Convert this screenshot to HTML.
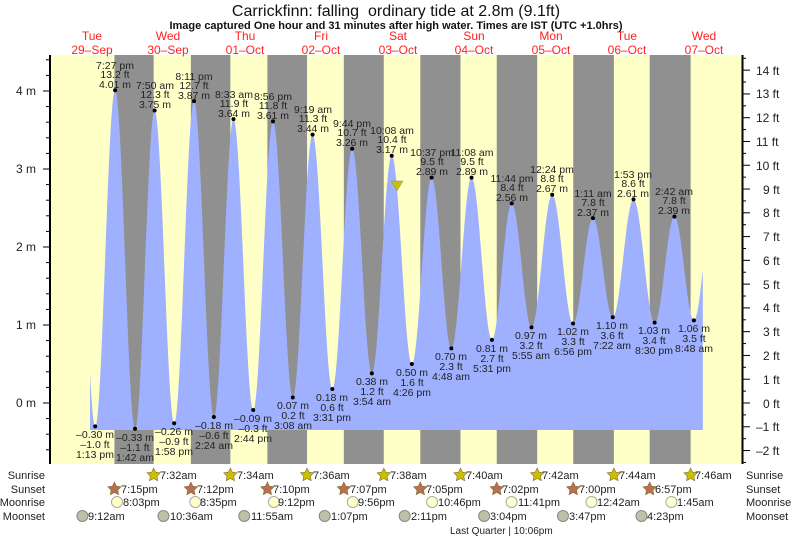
<!DOCTYPE html>
<html><head><meta charset="utf-8"><style>
body{margin:0;background:#fff;}
svg{display:block;font-family:"Liberation Sans",sans-serif;}
.t{font-size:10.5px;fill:#222;text-anchor:middle;}
.d{font-size:12px;fill:#f22;text-anchor:middle;}
.ax{font-size:12px;fill:#222;}
.r{font-size:11px;fill:#222;}
</style></head><body>
<svg id="s" width="793" height="538" viewBox="0 0 793 538">
<g id="bg"></g>
<path id="water" fill="#9fb0ff" d=""/>
<g id="ticks" stroke="#000" stroke-width="1"></g>
<line x1="50" y1="55" x2="50" y2="464" stroke="#000" stroke-width="2"/>
<line x1="742.5" y1="55" x2="742.5" y2="464" stroke="#000" stroke-width="2"/>
<text x="396" y="16" style="font-size:16px;fill:#111" text-anchor="middle">Carrickfinn: falling&#160; ordinary tide at 2.8m (9.1ft)</text>
<text x="396" y="29" style="font-size:11px;font-weight:bold;fill:#111" text-anchor="middle">Image captured One hour and 31 minutes after high water. Times are IST (UTC +1.0hrs)</text>
<text class="d" x="92" y="40">Tue</text><text class="d" x="92" y="54">29–Sep</text>
<text class="d" x="168" y="40">Wed</text><text class="d" x="168" y="54">30–Sep</text>
<text class="d" x="245" y="40">Thu</text><text class="d" x="245" y="54">01–Oct</text>
<text class="d" x="321" y="40">Fri</text><text class="d" x="321" y="54">02–Oct</text>
<text class="d" x="398" y="40">Sat</text><text class="d" x="398" y="54">03–Oct</text>
<text class="d" x="474" y="40">Sun</text><text class="d" x="474" y="54">04–Oct</text>
<text class="d" x="551" y="40">Mon</text><text class="d" x="551" y="54">05–Oct</text>
<text class="d" x="627" y="40">Tue</text><text class="d" x="627" y="54">06–Oct</text>
<text class="d" x="704" y="40">Wed</text><text class="d" x="704" y="54">07–Oct</text>
<g class="ax" text-anchor="end">
<text x="36" y="95">4 m</text><text x="36" y="173">3 m</text><text x="36" y="251">2 m</text><text x="36" y="329">1 m</text><text x="36" y="407">0 m</text>
</g>
<g class="ax">
<text x="756" y="75">14 ft</text><text x="756" y="98">13 ft</text><text x="756" y="122">12 ft</text><text x="756" y="146">11 ft</text><text x="756" y="170">10 ft</text><text x="763" y="194">9 ft</text><text x="763" y="217">8 ft</text><text x="763" y="241">7 ft</text><text x="763" y="265">6 ft</text><text x="763" y="289">5 ft</text><text x="763" y="312">4 ft</text><text x="763" y="336">3 ft</text><text x="763" y="360">2 ft</text><text x="763" y="384">1 ft</text><text x="763" y="408">0 ft</text><text x="756" y="431">–1 ft</text><text x="756" y="455">–2 ft</text>
</g>
<g id="dots" fill="#000"></g>
<g class="t">
<text x="115" y="69">7:27 pm</text><text x="115" y="78">13.2 ft</text><text x="115" y="88">4.01 m</text>
<text x="155" y="89">7:50 am</text><text x="155" y="98">12.3 ft</text><text x="155" y="108">3.75 m</text>
<text x="194" y="80">8:11 pm</text><text x="194" y="89">12.7 ft</text><text x="194" y="99">3.87 m</text>
<text x="234" y="98">8:33 am</text><text x="234" y="107">11.9 ft</text><text x="234" y="117">3.64 m</text>
<text x="273" y="100">8:56 pm</text><text x="273" y="109">11.8 ft</text><text x="273" y="119">3.61 m</text>
<text x="313" y="113">9:19 am</text><text x="313" y="122">11.3 ft</text><text x="313" y="132">3.44 m</text>
<text x="352" y="127">9:44 pm</text><text x="352" y="136">10.7 ft</text><text x="352" y="146">3.26 m</text>
<text x="392" y="134">10:08 am</text><text x="392" y="143">10.4 ft</text><text x="392" y="153">3.17 m</text>
<text x="432" y="156">10:37 pm</text><text x="432" y="165">9.5 ft</text><text x="432" y="175">2.89 m</text>
<text x="472" y="156">11:08 am</text><text x="472" y="165">9.5 ft</text><text x="472" y="175">2.89 m</text>
<text x="512" y="182">11:44 pm</text><text x="512" y="191">8.4 ft</text><text x="512" y="201">2.56 m</text>
<text x="552" y="173">12:24 pm</text><text x="552" y="182">8.8 ft</text><text x="552" y="192">2.67 m</text>
<text x="593" y="197">1:11 am</text><text x="593" y="206">7.8 ft</text><text x="593" y="216">2.37 m</text>
<text x="633" y="178">1:53 pm</text><text x="633" y="187">8.6 ft</text><text x="633" y="197">2.61 m</text>
<text x="674" y="195">2:42 am</text><text x="674" y="204">7.8 ft</text><text x="674" y="214">2.39 m</text>

<text x="95" y="438">–0.30 m</text><text x="95" y="448">–1.0 ft</text><text x="95" y="458">1:13 pm</text>
<text x="135" y="441">–0.33 m</text><text x="135" y="451">–1.1 ft</text><text x="135" y="461">1:42 am</text>
<text x="174" y="435">–0.26 m</text><text x="174" y="445">–0.9 ft</text><text x="174" y="455">1:58 pm</text>
<text x="214" y="429">–0.18 m</text><text x="214" y="439">–0.6 ft</text><text x="214" y="449">2:24 am</text>
<text x="253" y="422">–0.09 m</text><text x="253" y="432">–0.3 ft</text><text x="253" y="442">2:44 pm</text>
<text x="293" y="409">0.07 m</text><text x="293" y="419">0.2 ft</text><text x="293" y="429">3:08 am</text>
<text x="332" y="401">0.18 m</text><text x="332" y="411">0.6 ft</text><text x="332" y="421">3:31 pm</text>
<text x="372" y="385">0.38 m</text><text x="372" y="395">1.2 ft</text><text x="372" y="405">3:54 am</text>
<text x="412" y="376">0.50 m</text><text x="412" y="386">1.6 ft</text><text x="412" y="396">4:26 pm</text>
<text x="451" y="360">0.70 m</text><text x="451" y="370">2.3 ft</text><text x="451" y="380">4:48 am</text>
<text x="492" y="352">0.81 m</text><text x="492" y="362">2.7 ft</text><text x="492" y="372">5:31 pm</text>
<text x="531" y="339">0.97 m</text><text x="531" y="349">3.2 ft</text><text x="531" y="359">5:55 am</text>
<text x="573" y="335">1.02 m</text><text x="573" y="345">3.3 ft</text><text x="573" y="355">6:56 pm</text>
<text x="612" y="329">1.10 m</text><text x="612" y="339">3.6 ft</text><text x="612" y="349">7:22 am</text>
<text x="654" y="334">1.03 m</text><text x="654" y="344">3.4 ft</text><text x="654" y="354">8:30 pm</text>
<text x="694" y="332">1.06 m</text><text x="694" y="342">3.5 ft</text><text x="694" y="352">8:48 am</text>
</g>
<polygon points="391,181 403,181 397,191" fill="#c8c000" stroke="#888" stroke-width="0.5"/>
<g class="r" text-anchor="end">
<text x="45" y="479">Sunrise</text><text x="45" y="493">Sunset</text><text x="45" y="506">Moonrise</text><text x="45" y="520">Moonset</text>
</g>
<g class="r">
<text x="746" y="479">Sunrise</text><text x="746" y="493">Sunset</text><text x="746" y="506">Moonrise</text><text x="746" y="520">Moonset</text>
</g>
<g id="icons"></g>
<g class="r" font-size="10.5">
<text x="160" y="479">7:32am</text><text x="237" y="479">7:34am</text><text x="313" y="479">7:36am</text><text x="390" y="479">7:38am</text><text x="466" y="479">7:40am</text><text x="542" y="479">7:42am</text><text x="619" y="479">7:44am</text><text x="695" y="479">7:46am</text>
<text x="121" y="493">7:15pm</text><text x="197" y="493">7:12pm</text><text x="273" y="493">7:10pm</text><text x="350" y="493">7:07pm</text><text x="426" y="493">7:05pm</text><text x="502" y="493">7:02pm</text><text x="579" y="493">7:00pm</text><text x="655" y="493">6:57pm</text>
<text x="123" y="506">8:03pm</text><text x="200" y="506">8:35pm</text><text x="278" y="506">9:12pm</text><text x="358" y="506">9:56pm</text><text x="438" y="506">10:46pm</text><text x="518" y="506">11:41pm</text><text x="597" y="506">12:42am</text><text x="677" y="506">1:45am</text>
<text x="88" y="520">9:12am</text><text x="170" y="520">10:36am</text><text x="251" y="520">11:55am</text><text x="331" y="520">1:07pm</text><text x="411" y="520">2:11pm</text><text x="490" y="520">3:04pm</text><text x="569" y="520">3:47pm</text><text x="647" y="520">4:23pm</text>
<text x="450" y="534" font-size="10">Last Quarter | 10:06pm</text>
</g>
</svg>
<script>
var NS="http://www.w3.org/2000/svg";
function X(t){return 53+t*3.1917;}
function Y(m){return 403-78*m;}
function el(p,n,a){var e=document.createElementNS(NS,n);for(var k in a)e.setAttribute(k,a[k]);document.getElementById(p).appendChild(e);return e;}
el("bg","rect",{x:50,y:55,width:693,height:409,fill:"#ffffc8"});
var ss=[19.25,43.2,67.17,91.12,115.08,139.03,163,186.95],sr=[31.53,55.57,79.6,103.63,127.67,151.7,175.73,199.77];
for(var i=0;i<8;i++)el("bg","rect",{x:X(ss[i]),y:55,width:X(sr[i])-X(ss[i]),height:409,fill:"#909090"});
var ex=[[7.0,4.0],[13.22,-0.30],[19.45,4.01],[25.7,-0.33],[31.83,3.75],[37.97,-0.26],[44.18,3.87],[50.4,-0.18],[56.55,3.64],[62.73,-0.09],[68.93,3.61],[75.13,0.07],[81.32,3.44],[87.52,0.18],[93.73,3.26],[99.9,0.38],[106.13,3.17],[112.43,0.50],[118.62,2.89],[124.8,0.70],[131.13,2.89],[137.52,0.81],[143.73,2.56],[149.92,0.97],[156.4,2.67],[162.93,1.02],[169.18,2.37],[175.37,1.10],[181.88,2.61],[188.5,1.03],[194.7,2.39],[200.8,1.06],[207,2.6]];
function H(t){for(var i=0;i<ex.length-1;i++){var a=ex[i],b=ex[i+1];if(t>=a[0]&&t<=b[0]){var f=(t-a[0])/(b[0]-a[0]);return a[1]+(b[1]-a[1])*(1-Math.cos(Math.PI*f))/2;}}return 0;}
var t0=11.6,t1=203.6,d="M"+X(t0)+",430";
for(var t=t0;t<=t1;t+=0.1)d+=" L"+X(t).toFixed(2)+","+Y(H(t)).toFixed(2);
d+=" L"+X(t1)+","+Y(H(t1))+" L"+X(t1)+",430Z";
document.getElementById("water").setAttribute("d",d);
for(var i=1;i<ex.length-1;i++)el("dots","circle",{cx:X(ex[i][0]),cy:Y(ex[i][1]),r:2});
for(var m=-0.6;m<=4.41;m+=0.2){var y=Y(m),maj=Math.abs(m-Math.round(m))<0.01;el("ticks","line",{x1:maj?43:46,x2:50,y1:y,y2:y});}
for(var f=-2.5;f<=14.6;f+=0.5){var y=403-23.774*f,maj=Math.abs(f-Math.round(f))<0.01;el("ticks","line",{x1:742,x2:maj?750:746,y1:y,y2:y});}
function star(cx,cy,r,fill){var p="";for(var k=0;k<10;k++){var a=-Math.PI/2+k*Math.PI/5,rr=k%2?r*0.5:r;p+=(cx+rr*Math.cos(a)).toFixed(1)+","+(cy+rr*Math.sin(a)).toFixed(1)+" ";}el("icons","polygon",{points:p,fill:fill,stroke:"#8a6a30","stroke-width":0.6});}
for(var i=0;i<8;i++){star(X(sr[i]),475,7,"#c8c000");star(X(ss[i]),489,7,"#b87050");}
var mr=[20.05,44.58,69.2,93.93,118.77,143.68,168.7,193.75],ms=[9.2,34.6,59.92,85.12,110.18,135.07,159.78,184.38];
for(var i=0;i<8;i++){el("icons","circle",{cx:X(mr[i]),cy:502,r:5.5,fill:"#ffffc8",stroke:"#aaa"});el("icons","circle",{cx:X(ms[i]),cy:516,r:5.5,fill:"#c0c0a8",stroke:"#888"});}
</script>
</body></html>
